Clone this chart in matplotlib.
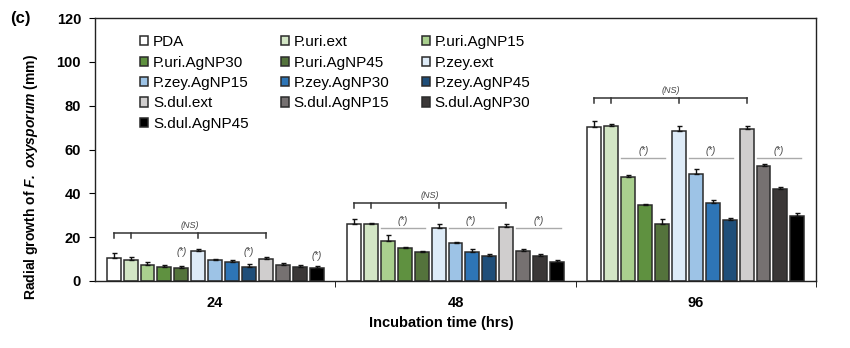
import matplotlib
matplotlib.use("Agg")
import matplotlib.pyplot as plt
import numpy as np

plt.rcParams["font.family"] = ["Liberation Sans", "DejaVu Sans"]
plt.rcParams["mathtext.fontset"] = "custom"
plt.rcParams["mathtext.bfit"] = "Liberation Sans:bold:italic"
plt.rcParams["mathtext.bf"] = "Liberation Sans:bold"

times = ["24", "48", "96"]
treatments = [
    "PDA", "P.uri.ext", "P.uri.AgNP15", "P.uri.AgNP30", "P.uri.AgNP45",
    "P.zey.ext", "P.zey.AgNP15", "P.zey.AgNP30", "P.zey.AgNP45",
    "S.dul.ext", "S.dul.AgNP15", "S.dul.AgNP30", "S.dul.AgNP45",
]
colors = [
    "#ffffff", "#d3e6c5", "#a9d08e", "#5f9140", "#54733c",
    "#deebf7", "#9dc3e6", "#2e75b6", "#1f4e79",
    "#d0cece", "#767171", "#3b3838", "#000000",
]

# mean radial growth (mm) per treatment, one list per incubation time
growth_24 = [10.3, 9.4, 7.5, 6.6, 5.9, 13.9, 9.4, 8.6, 6.6, 10.1, 7.5, 6.5, 5.9]
growth_48 = [26.1, 25.8, 18.3, 15.0, 13.2, 24.3, 17.4, 13.3, 11.2, 24.6, 13.5, 11.2, 8.8]
growth_96 = [70.4, 70.9, 47.4, 34.6, 26.0, 68.6, 49.0, 35.8, 27.7, 69.5, 52.4, 42.0, 29.8]

err_24 = [2.4, 1.5, 1.1, 0.8, 0.8, 0.8, 0.5, 1.1, 1.1, 0.9, 0.8, 1.0, 1.0]
err_48 = [2.0, 0.8, 2.5, 0.6, 0.4, 1.5, 0.6, 1.2, 0.9, 1.2, 1.0, 0.9, 0.9]
err_96 = [2.5, 0.7, 0.9, 0.4, 2.3, 2.0, 2.1, 1.0, 1.2, 1.1, 0.9, 0.9, 1.2]

# significance marks: bracket height over the ext bars, (*) text / line heights
ns_level = [22.0, 35.5, 83.3]
star_24 = [13.1, 13.1, 11.2]
star_line = [None, 24.2, 56.0]

growth = np.array([growth_24, growth_48, growth_96])
errs = np.array([err_24, err_48, err_96])

n = len(treatments)
pitch = 0.0704
width = 0.058
x = np.arange(len(times))
offsets = (np.arange(n) - (n - 1) / 2) * pitch

fig = plt.figure(figsize=(8.5, 3.48), dpi=100)
ax = fig.add_axes([95 / 850, 1 - 281 / 348, (816 - 95) / 850, (281 - 18) / 348])

handles = []
for j in range(n):
    h = ax.bar(x + offsets[j], growth[:, j], width, color=colors[j],
               edgecolor="#2b2b2b", linewidth=1.1, label=treatments[j],
               zorder=2)
    ax.errorbar(x + offsets[j], growth[:, j], yerr=[np.zeros(3), errs[:, j]],
                fmt="none", ecolor="#111111", elinewidth=1, capsize=1.8,
                capthick=1, zorder=3)
    handles.append(h)

ann = dict(fontsize=7, style="italic", color="#444444", ha="center")
for i in range(len(times)):
    # (NS) bracket joining PDA and the three plant extracts
    ticks = [x[i] + offsets[k] for k in (0, 1, 5, 9)]
    y0 = ns_level[i]
    drop = 2.2
    ax.plot([ticks[0], ticks[-1]], [y0, y0], color="#333333", lw=1.1,
            zorder=4)
    for t in ticks:
        ax.plot([t, t], [y0, y0 - drop], color="#333333", lw=1.1, zorder=4)
    ax.text((ticks[0] + ticks[-1]) / 2, y0 + 1.4, "(NS)", va="bottom",
            **{**ann, "fontsize": 6.5})

    for k0, k1 in ((2, 4), (6, 8), (10, 12)):
        if star_line[i] is None:
            ax.text(x[i] + offsets[k1], star_24[k0 // 4], "(*)",
                    va="center", **ann)
        else:
            xa = x[i] + offsets[k0] - width / 2
            xb = x[i] + offsets[k1] + width / 4
            yl = star_line[i]
            ax.plot([xa, xb], [yl, yl], color="#aaaaaa", lw=1, zorder=4)
            ax.text((xa + xb) / 2, yl + 3.3, "(*)", va="center", **ann)

ax.set_xlim(-0.5, 2.5)
ax.set_ylim(0, 120)
ax.set_yticks(np.arange(0, 121, 20))
ax.set_xticks(x)
ax.set_xticklabels(times)
ax.set_xticks([0.5, 1.5, 2.5], minor=True)
ax.tick_params(axis="x", which="major", length=0, pad=11)
ax.tick_params(axis="x", which="minor", length=4, direction="out")
ax.tick_params(axis="y", length=4, direction="out", pad=6)
for lab in ax.get_xticklabels() + ax.get_yticklabels():
    lab.set_fontweight("bold")
    lab.set_fontsize(10.5)
for s in ax.spines.values():
    s.set_linewidth(1)
    s.set_color("#222222")

ax.set_ylabel(r"Radial growth of $\mathbfit{F.\ oxysporum}$ (mm)",
              fontsize=10, fontweight="bold")
ax.yaxis.set_label_coords(-0.076, 0.395)
ax.set_xlabel("Incubation time (hrs)", fontsize=10.5, fontweight="bold")
ax.xaxis.set_label_coords(0.481, -0.133)

fig.text(10 / 850, 1 - 18 / 348, "(c)", fontsize=12, fontweight="bold",
         va="center", ha="left")

# legend reads row-wise: reorder for matplotlib's column-major fill
order = [0, 3, 6, 9, 12, 1, 4, 7, 10, 2, 5, 8, 11]
leg = ax.legend([handles[k] for k in order], [treatments[k] for k in order],
                ncol=3, loc="upper left", bbox_to_anchor=(0.0624, 0.935),
                frameon=False, fontsize=11, handlelength=0.55,
                handleheight=0.55, handletextpad=0.3, columnspacing=2.1,
                labelspacing=0.42, borderpad=0, borderaxespad=0)

fig.savefig("out.png", dpi=100)
